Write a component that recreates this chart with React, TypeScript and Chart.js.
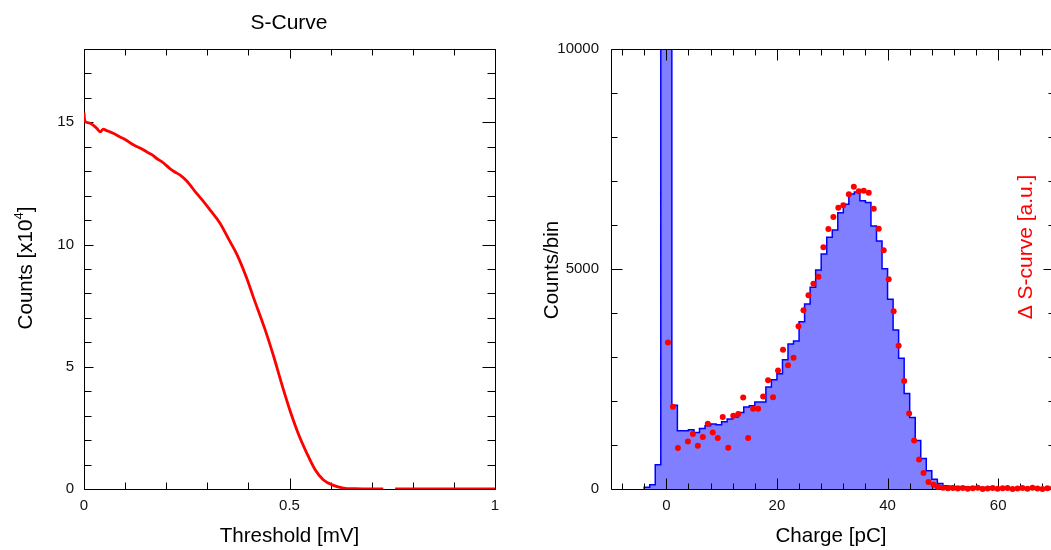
import { useEffect, useRef } from 'react';
import { Chart, registerables } from 'chart.js';

Chart.register(...registerables);

// ---------------- Data ----------------
// Left panel: S-curve (threshold in mV, counts in units of 10^4)
const sCurveThreshold = [
  0, 0.002, 0.012, 0.023, 0.032, 0.039, 0.047, 0.055, 0.063, 0.075, 0.088, 0.1,
  0.12, 0.14, 0.153, 0.165, 0.177, 0.19, 0.209, 0.22, 0.234, 0.25, 0.274, 0.29,
  0.307, 0.331, 0.351, 0.372, 0.396, 0.412, 0.44, 0.461, 0.481, 0.501, 0.521,
  0.542, 0.562, 0.582, 0.607, 0.631, 0.66, 0.7, 0.728, 0.74, 0.757, 0.8, 0.9, 1.0,
];
const sCurveCounts = [
  15.4, 15.05, 14.98, 14.88, 14.74, 14.61, 14.72, 14.66, 14.61, 14.52, 14.4, 14.3,
  14.08, 13.92, 13.79, 13.68, 13.52, 13.38, 13.11, 12.98, 12.84, 12.6, 12.09, 11.78,
  11.41, 10.87, 10.25, 9.6, 8.62, 7.85, 6.55, 5.45, 4.3, 3.22, 2.28,
  1.47, 0.8, 0.38, 0.15, 0.04, 0.01, 0.0, 0.0, null, 0.0, 0.0, 0.0, 0.0,
];

// Right panel: charge histogram, 1 pC bins, lower edges from -4 pC
const chargeBinFirstEdge = -4;
const chargeBinWidth = 1;
const chargeBinCounts = [
  40, 95, 550, 30000, 30000, 1905, 1323, 1323, 1346, 1285, 1376, 1437, 1475, 1460,
  1528, 1589, 1634, 1739, 1862, 1891, 1975, 1975, 2316, 2481, 2617, 2935, 3295,
  3366, 3800, 4203, 4586, 4978, 5341, 5721, 5886, 6279, 6470, 6704, 6750, 6551,
  6510, 5980, 5634, 5008, 4313, 3616, 2974, 2170, 1625, 1103, 695, 415, 220, 125,
  75, 65, 55, 50, 45, 40, 40, 35, 35, 30, 30, 25, 25, 25, 20, 20, 20, 20, 15, 15,
];

// Right panel: derivative of the S-curve (red markers)
const deltaCharge = [
  0.3, 1.2, 2.1, 3.9, 4.8, 5.7, 6.6, 7.5, 8.4, 9.3, 10.2, 11.2, 12.1, 13.0, 13.9,
  14.8, 15.7, 16.6, 17.5, 18.4, 19.3, 20.2, 21.1, 22.0, 23.0, 23.9, 24.8, 25.7,
  26.6, 27.5, 28.4, 29.3, 30.2, 31.1, 32.0, 33.0, 33.9, 34.8, 35.7, 36.6, 37.5,
  38.4, 39.3, 40.2, 41.1, 42.0, 43.0, 43.9, 44.8, 45.7, 46.5, 47.4, 48.3, 49.1,
  50.0, 50.9, 51.8, 52.7, 53.6, 54.5, 55.4, 56.3, 57.2, 58.1, 59.0, 59.9, 60.8,
  61.7, 62.6, 63.5, 64.4, 65.3, 66.2, 67.1, 68.0, 68.9, 69.9,
];
const deltaValues = [
  3328, 1868, 931, 1081, 1249, 983, 1180, 1482, 1285, 1158, 1634, 938, 1664, 1702,
  2080, 1158, 1823, 1823, 2102, 2474, 2088, 2692, 3162, 2815, 2981, 3700, 4063,
  4404, 4667, 4826, 5494, 5909, 6182, 6393, 6447, 6697, 6870, 6765, 6779, 6733,
  6370, 5916, 5426, 4767, 4041, 3253, 2452, 1716, 1103, 672, 363, 159, 98, 45,
  30, 15, 20, 10, 25, 5, 15, 30, 0, 10, 20, 5, 15, 25, 0, 10, 20, 5, 30, 10, 0, 15, 20,
];

// Axis ticks
const leftXRange = [0, 1];
const leftXMajor = [0, 0.5, 1];
const leftXMinorStep = 0.1;
const leftYRange = [0, 18];
const leftYMajor = [0, 5, 10, 15];
const leftYMinorStep = 1;

const rightXRange = [-10, 70];
const rightXMajor = [0, 20, 40, 60];
const rightXMinorStep = 4;
const rightYRange = [0, 10000];
const rightYMajor = [0, 5000, 10000];
const rightYMinorStep = 1000;

// ---------------- Helpers ----------------
const FONT = "'Liberation Sans', Arial, Helvetica, sans-serif";

function stepValues(min: number, max: number, step: number): number[] {
  const out: number[] = [];
  const s = Math.ceil(min / step - 1e-9);
  const e = Math.floor(max / step + 1e-9);
  for (let k = s; k <= e; k++) out.push(+(k * step).toFixed(6));
  return out;
}

type FrameSpec = {
  xMajor: number[]; xMinorStep: number; yMajor: number[]; yMinorStep: number;
  len: { left: [number, number]; right: [number, number]; top: [number, number]; bottom: [number, number] };
};

function drawFrame(chart: any, spec: FrameSpec) {
  const { ctx, chartArea: a } = chart;
  const xs = chart.scales.x;
  const ys = chart.scales.y;
  const L = Math.round(a.left) + 0.5;
  const R = Math.round(a.right) + 0.5;
  const T = Math.round(a.top) + 0.5;
  const B = Math.round(a.bottom) + 0.5;
  ctx.save();
  ctx.strokeStyle = '#000';
  ctx.lineWidth = 1;
  ctx.beginPath();
  ctx.rect(L, T, R - L, B - T);
  const isMaj = (arr: number[], v: number) => arr.some((m) => Math.abs(m - v) < 1e-6);
  for (const v of stepValues(xs.min, xs.max, spec.xMinorStep)) {
    const px = Math.round(xs.getPixelForValue(v)) + 0.5;
    const m = isMaj(spec.xMajor, v) ? 1 : 0;
    ctx.moveTo(px, B);
    ctx.lineTo(px, B - spec.len.bottom[m]);
    ctx.moveTo(px, T);
    ctx.lineTo(px, T + spec.len.top[m]);
  }
  for (const v of stepValues(ys.min, ys.max, spec.yMinorStep)) {
    const py = Math.round(ys.getPixelForValue(v)) + 0.5;
    const m = isMaj(spec.yMajor, v) ? 1 : 0;
    ctx.moveTo(L, py);
    ctx.lineTo(L + spec.len.left[m], py);
    ctx.moveTo(R, py);
    ctx.lineTo(R - spec.len.right[m], py);
  }
  ctx.stroke();
  ctx.restore();
}

type TextPart = { t: string; size: number; dy: number };
type TextItem = { parts: TextPart[]; x: number; y: number; rot: number; color: string };

function drawTexts(ctx: CanvasRenderingContext2D, items: TextItem[]) {
  for (const it of items) {
    ctx.save();
    ctx.translate(it.x, it.y);
    ctx.rotate(it.rot);
    ctx.fillStyle = it.color;
    ctx.textBaseline = 'alphabetic';
    ctx.textAlign = 'left';
    let total = 0;
    const widths = it.parts.map((p) => {
      ctx.font = `${p.size}px ${FONT}`;
      const w = ctx.measureText(p.t).width;
      total += w;
      return w;
    });
    const base = it.parts[0].size * 0.358;
    let x = -total / 2;
    it.parts.forEach((p, i) => {
      ctx.font = `${p.size}px ${FONT}`;
      ctx.fillText(p.t, x, base + p.dy);
      x += widths[i];
    });
    ctx.restore();
  }
}

function axisCommon(range: number[], major: number[], padding: number) {
  return {
    type: 'linear' as const,
    min: range[0],
    max: range[1],
    grid: { display: false, drawTicks: false },
    border: { display: false },
    afterBuildTicks: (s: any) => {
      s.ticks = major.map((v) => ({ value: v }));
    },
    ticks: {
      autoSkip: false,
      maxRotation: 0,
      minRotation: 0,
      padding,
      color: '#111',
      font: { family: FONT, size: 15 },
      callback: (v: any) => String(v),
    },
  };
}

const TITLE = 20.6;

// ---------------- Component ----------------
export default function App() {
  const leftRef = useRef<HTMLCanvasElement>(null);
  const rightRef = useRef<HTMLCanvasElement>(null);

  useEffect(() => {
    const leftSpec: FrameSpec = {
      xMajor: leftXMajor, xMinorStep: leftXMinorStep, yMajor: leftYMajor, yMinorStep: leftYMinorStep,
      len: { left: [7, 9], right: [8, 13], top: [6, 9], bottom: [7, 11] },
    };
    const leftTexts: TextItem[] = [
      { parts: [{ t: 'S-Curve', size: 21, dy: 0 }], x: 289, y: 21.4, rot: 0, color: '#000' },
      { parts: [{ t: 'Threshold [mV]', size: TITLE, dy: 0 }], x: 289.5, y: 534.5, rot: 0, color: '#000' },
      {
        parts: [
          { t: 'Counts [x10', size: TITLE, dy: 0 },
          { t: '4', size: 13, dy: -9 },
          { t: ']', size: TITLE, dy: 0 },
        ],
        x: 25, y: 268, rot: -Math.PI / 2, color: '#000',
      },
    ];
    const left = new Chart(leftRef.current as HTMLCanvasElement, {
      type: 'line',
      data: {
        datasets: [
          {
            data: sCurveThreshold.map((t, i) => ({ x: t, y: sCurveCounts[i] })) as any,
            borderColor: '#ff0000',
            borderWidth: 2.8,
            pointRadius: 0,
            cubicInterpolationMode: 'monotone',
            spanGaps: false,
            fill: false,
          },
        ],
      },
      options: {
        responsive: false,
        animation: false,
        devicePixelRatio: 1,
        layout: { padding: { left: 0, top: 49, right: 30, bottom: 0 } },
        plugins: { legend: { display: false }, tooltip: { enabled: false }, title: { display: false } },
        scales: {
          x: { ...axisCommon(leftXRange, leftXMajor, 8), afterFit: (s: any) => { s.height = 61; } },
          y: { ...axisCommon(leftYRange, leftYMajor, 10), afterFit: (s: any) => { s.width = 84; } },
        } as any,
      },
      plugins: [
        {
          id: 'rootFrameLeft',
          beforeDatasetsDraw: (chart: any) => drawFrame(chart, leftSpec),
          afterDraw: (chart: any) => drawTexts(chart.ctx, leftTexts),
        },
      ],
    });

    const rightSpec: FrameSpec = {
      xMajor: rightXMajor, xMinorStep: rightXMinorStep, yMajor: rightYMajor, yMinorStep: rightYMinorStep,
      len: { left: [6, 11], right: [6, 11], top: [6, 11], bottom: [6, 11] },
    };
    const histPoints: { x: number; y: number }[] = [{ x: chargeBinFirstEdge, y: 0 }];
    chargeBinCounts.forEach((c, i) => histPoints.push({ x: chargeBinFirstEdge + i * chargeBinWidth, y: c }));
    histPoints.push({
      x: chargeBinFirstEdge + chargeBinCounts.length * chargeBinWidth,
      y: chargeBinCounts[chargeBinCounts.length - 1],
    });

    const rightTexts: TextItem[] = [
      { parts: [{ t: 'Charge [pC]', size: TITLE, dy: 0 }], x: 306, y: 534.5, rot: 0, color: '#000' },
      { parts: [{ t: 'Counts/bin', size: TITLE, dy: 0 }], x: 26, y: 270, rot: -Math.PI / 2, color: '#000' },
      { parts: [{ t: 'Δ S-curve [a.u.]', size: 21, dy: 0 }], x: 499, y: 247, rot: -Math.PI / 2, color: '#ff0000' },
    ];

    const right = new Chart(rightRef.current as HTMLCanvasElement, {
      type: 'line',
      data: {
        datasets: [
          {
            data: deltaCharge.map((c, i) => ({ x: c, y: deltaValues[i] })) as any,
            showLine: false,
            pointRadius: 3,
            pointStyle: 'circle',
            pointBackgroundColor: '#ff0000',
            pointBorderWidth: 0,
            borderColor: '#ff0000',
            clip: false as any,
            order: 0,
          },
          {
            data: histPoints as any,
            stepped: true,
            fill: 'origin',
            backgroundColor: '#7f7fff',
            borderColor: '#0000ff',
            borderWidth: 1.5,
            pointRadius: 0,
            tension: 0,
            order: 1,
          },
        ],
      },
      options: {
        responsive: false,
        animation: false,
        devicePixelRatio: 1,
        layout: { padding: { left: 0, top: 49, right: 16.5, bottom: 0 } },
        plugins: { legend: { display: false }, tooltip: { enabled: false }, title: { display: false } },
        scales: {
          x: { ...axisCommon(rightXRange, rightXMajor, 8), afterFit: (s: any) => { s.height = 61; } },
          y: { ...axisCommon(rightYRange, rightYMajor, 12), afterFit: (s: any) => { s.width = 86; } },
        } as any,
      },
      plugins: [
        {
          id: 'rootFrameRight',
          afterDatasetDraw: (chart: any, args: any) => {
            if (args.index === 1) drawFrame(chart, rightSpec);
          },
          afterDraw: (chart: any) => drawTexts(chart.ctx, rightTexts),
        },
      ],
    });

    return () => {
      left.destroy();
      right.destroy();
    };
  }, []);

  return (
    <div
      style={{
        position: 'fixed', left: 0, top: 0, width: 1051, height: 550,
        overflow: 'hidden', background: '#fff',
      }}
    >
      <canvas
        ref={leftRef}
        width={525}
        height={550}
        style={{ position: 'absolute', left: 0, top: 0, width: 525, height: 550 }}
      />
      <canvas
        ref={rightRef}
        width={545}
        height={550}
        style={{ position: 'absolute', left: 525, top: 0, width: 545, height: 550 }}
      />
    </div>
  );
}
